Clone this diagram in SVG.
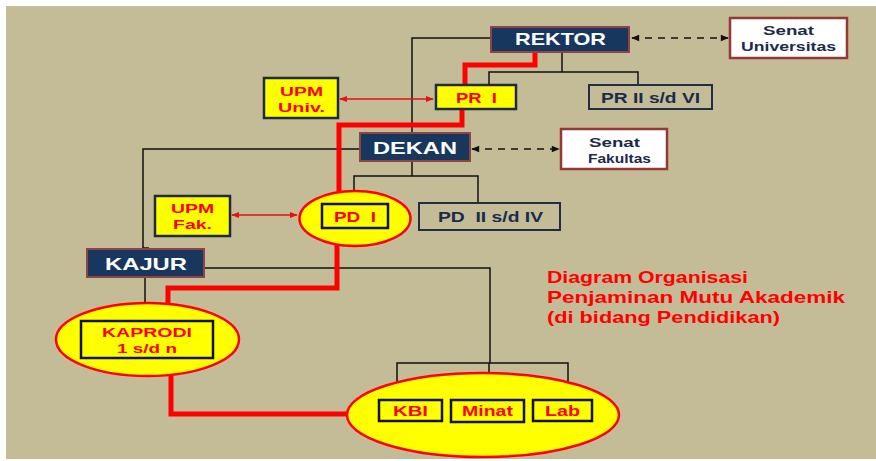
<svg xmlns="http://www.w3.org/2000/svg" width="876" height="461" viewBox="0 0 876 461">
<defs>
<style>
.navy{fill:#17375E;stroke:#8E4444;stroke-width:2}
.white{fill:#FFFFFF;stroke:#953735;stroke-width:2.5}
.yel{fill:#FFFF00;stroke:#1F2A3A;stroke-width:2.5}
.plain{fill:none;stroke:#1F2D45;stroke-width:2}
.ell{fill:#FFFF00;stroke:#FF0000;stroke-width:2.5}
.ybox{fill:#FFFF00;stroke:#111111;stroke-width:2.5}
text{font-family:"Liberation Sans",Arial,sans-serif;font-weight:bold}
.tw{fill:#FFFFFF;font-size:17px}
.tn{fill:#1B2B4B;font-size:15px}
.tr{fill:#FF0000;font-size:15px}
.t2{font-size:13.5px}
.title{font-weight:bold;fill:#FF0000;font-size:16.5px}
.thin{fill:none;stroke:#111111;stroke-width:1.5}
.red{fill:none;stroke:#FF0000;stroke-width:5}
.dash{fill:none;stroke:#111111;stroke-width:1.5;stroke-dasharray:7,6}
.rarr{fill:none;stroke:#E81010;stroke-width:1.5}
</style>
<marker id="ah" viewBox="0 0 10 10" refX="9" refY="5" markerWidth="9" markerHeight="8" orient="auto-start-reverse" markerUnits="userSpaceOnUse">
<path d="M0,1 L10,5 L0,9 z" fill="#111111"/>
</marker>
<marker id="rh" viewBox="0 0 10 10" refX="9" refY="5" markerWidth="8" markerHeight="8" orient="auto-start-reverse" markerUnits="userSpaceOnUse">
<path d="M0,1 L10,5 L0,9 z" fill="#E81010"/>
</marker>
</defs>
<rect x="0" y="0" width="876" height="461" fill="#FFFFFF"/>
<rect x="6" y="6" width="870" height="453" fill="#C4BC97"/>

<g id="connectors">
<polyline class="thin" points="491,38 412,38 412,176"/>
<polyline class="thin" points="562,52 562,72"/>
<polyline class="thin" points="489,86 489,72 638,72 638,86"/>
<polyline class="thin" points="354,205 354,176 478,176 478,203"/>
<polyline class="thin" points="360,149 143,149 143,248 149,248"/>
<polyline class="thin" points="204,268 490,268 490,363"/>
<polyline class="thin" points="397,400 397,363 568,363 568,400"/>
<line class="thin" x1="489" y1="363" x2="489" y2="401"/>
<line class="thin" x1="145" y1="277" x2="145" y2="321"/>
<polyline class="red" points="535,52 535,65 465,65 465,86"/>
<polyline class="red" points="462,109 462,125 339,125 339,192"/>
<polyline class="red" points="337,245 337,288 168,288 168,304"/>
<polyline class="red" points="171,376 171,414 349,414"/>
<line class="dash" x1="632" y1="38" x2="728" y2="38" marker-start="url(#ah)" marker-end="url(#ah)"/>
<line class="dash" x1="472" y1="149" x2="559" y2="149" marker-start="url(#ah)" marker-end="url(#ah)"/>
<line class="rarr" x1="340" y1="99" x2="433" y2="99" marker-start="url(#rh)" marker-end="url(#rh)"/>
<line class="rarr" x1="232" y1="215" x2="297" y2="215" marker-start="url(#rh)" marker-end="url(#rh)"/>
</g>

<g id="rektor">
<rect class="navy" x="491" y="27" width="138" height="25"/>
<text class="tw" x="515" y="45" textLength="91" lengthAdjust="spacingAndGlyphs">REKTOR</text>
</g>
<g id="senat-universitas">
<rect class="white" x="730" y="18" width="117" height="40"/>
<text class="tn t2" x="763" y="35" textLength="51" lengthAdjust="spacingAndGlyphs">Senat</text>
<text class="tn t2" x="741" y="51" textLength="95" lengthAdjust="spacingAndGlyphs">Universitas</text>
</g>
<g id="pr1">
<rect class="yel" x="436" y="85" width="80" height="24"/>
<text class="tr" x="456" y="103" textLength="41" lengthAdjust="spacingAndGlyphs" xml:space="preserve">PR  I</text>
</g>
<g id="pr2-6">
<rect class="plain" x="589" y="85" width="123" height="24"/>
<text class="tn" x="601" y="103" textLength="99" lengthAdjust="spacingAndGlyphs">PR II s/d VI</text>
</g>
<g id="upm-univ">
<rect class="yel" x="264" y="78" width="74" height="40"/>
<text class="tr t2" x="280" y="96" textLength="43" lengthAdjust="spacingAndGlyphs">UPM</text>
<text class="tr t2" x="278" y="112" textLength="47" lengthAdjust="spacingAndGlyphs">Univ.</text>
</g>
<g id="dekan">
<rect class="navy" x="360" y="133" width="110" height="28"/>
<text class="tw" x="373" y="154" textLength="84" lengthAdjust="spacingAndGlyphs">DEKAN</text>
</g>
<g id="senat-fakultas">
<rect class="white" x="561" y="129" width="106" height="40"/>
<text class="tn t2" x="589" y="147" textLength="51" lengthAdjust="spacingAndGlyphs">Senat</text>
<text class="tn t2" x="588" y="162.5" textLength="63" lengthAdjust="spacingAndGlyphs">Fakultas</text>
</g>
<g id="pd1">
<ellipse class="ell" cx="355" cy="218.5" rx="55.5" ry="27.5"/>
<rect class="ybox" x="322" y="204" width="66" height="24"/>
<text class="tr" x="334" y="222" textLength="42" lengthAdjust="spacingAndGlyphs" xml:space="preserve">PD  I</text>
</g>
<g id="pd2-4">
<rect class="plain" x="419" y="203" width="141" height="27"/>
<text class="tn" x="438" y="222" textLength="105" lengthAdjust="spacingAndGlyphs" xml:space="preserve">PD  II s/d IV</text>
</g>
<g id="upm-fak">
<rect class="yel" x="155" y="196" width="75" height="40"/>
<text class="tr t2" x="171" y="213" textLength="43" lengthAdjust="spacingAndGlyphs">UPM</text>
<text class="tr t2" x="173" y="229" textLength="39" lengthAdjust="spacingAndGlyphs">Fak.</text>
</g>
<g id="kajur">
<rect class="navy" x="87" y="249" width="117" height="28"/>
<text class="tw" x="105" y="270" textLength="82" lengthAdjust="spacingAndGlyphs">KAJUR</text>
</g>
<g id="kaprodi">
<ellipse class="ell" cx="147.5" cy="339.5" rx="91.5" ry="36.5"/>
<rect class="ybox" x="81" y="321" width="132" height="37"/>
<text class="tr t2" x="102" y="337" textLength="90" lengthAdjust="spacingAndGlyphs">KAPRODI</text>
<text class="tr t2" x="117" y="353" textLength="60" lengthAdjust="spacingAndGlyphs">1 s/d n</text>
</g>
<g id="unit-group">
<ellipse class="ell" cx="483" cy="415" rx="136" ry="42"/>
</g>
<g id="kbi">
<rect class="ybox" x="379" y="400" width="63" height="21"/>
<text class="tr" x="393" y="416" textLength="35" lengthAdjust="spacingAndGlyphs">KBI</text>
</g>
<g id="minat">
<rect class="ybox" x="451" y="400" width="73" height="22"/>
<text class="tr" x="462" y="416" textLength="51" lengthAdjust="spacingAndGlyphs">Minat</text>
</g>
<g id="lab">
<rect class="ybox" x="533" y="400" width="59" height="21"/>
<text class="tr" x="545" y="416" textLength="35" lengthAdjust="spacingAndGlyphs">Lab</text>
</g>
<g id="title">
<text class="title" x="547" y="283" textLength="201" lengthAdjust="spacingAndGlyphs">Diagram Organisasi</text>
<text class="title" x="547" y="303" textLength="298" lengthAdjust="spacingAndGlyphs">Penjaminan Mutu Akademik</text>
<text class="title" x="547" y="322.5" textLength="233" lengthAdjust="spacingAndGlyphs">(di bidang Pendidikan)</text>
</g>
</svg>
